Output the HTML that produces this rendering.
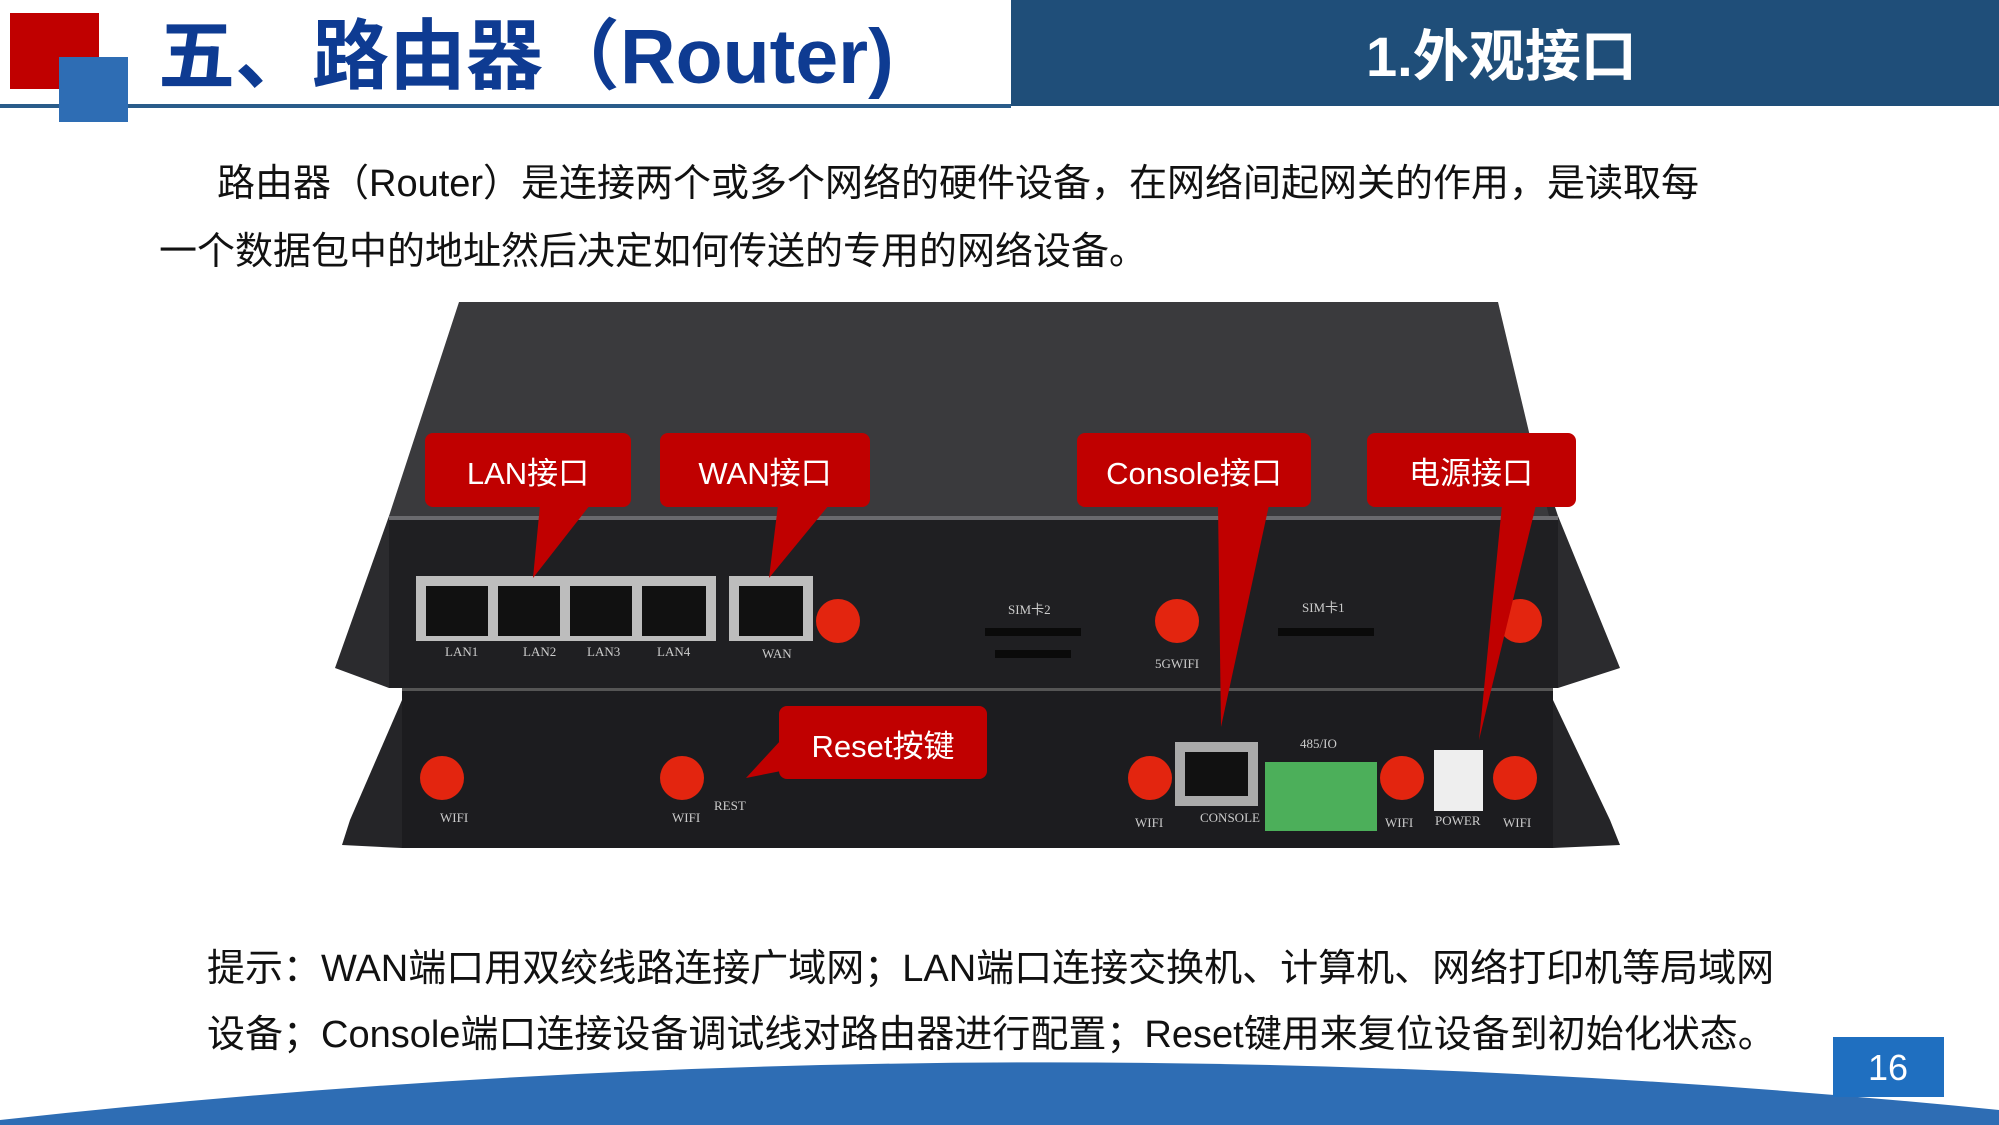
<!DOCTYPE html>
<html><head><meta charset="utf-8"><style>
html,body{margin:0;padding:0;background:#fff}
body{width:1999px;height:1125px;position:relative;overflow:hidden;font-family:"Liberation Sans","Noto Sans CJK SC",sans-serif}
.t{position:absolute;white-space:nowrap}
</style></head><body>
<svg width="1999" height="1125" viewBox="0 0 1999 1125" style="position:absolute;left:0;top:0">
<rect x="1011" y="0" width="988" height="106" fill="#1f4e79"/>
<rect x="0" y="104" width="1011" height="4" fill="#2a5c8a"/>
<rect x="10" y="13" width="89" height="76" fill="#c00000"/>
<rect x="59" y="57" width="69" height="65" fill="#2e6db4"/>
<polygon points="420,462 389,516 335,668 389,688" fill="#2b2b2e"/>
<polygon points="1540,462 1558,516 1620,668 1558,688" fill="#2b2b2e"/>
<polygon points="402,700 350,820 342,845 402,848" fill="#252528"/>
<polygon points="1553,700 1610,820 1620,845 1553,848" fill="#252528"/>
<polygon points="459,302 1498,302 1549,516 389,516" fill="#3a3a3d"/>
<rect x="389" y="516" width="1169" height="172" fill="#1f1f22"/>
<rect x="389" y="516" width="1169" height="4" fill="#6a6a6e"/>
<rect x="402" y="688" width="1151" height="160" fill="#1c1c1f"/>
<rect x="402" y="688" width="1151" height="3" fill="#555"/>
<rect x="416" y="576" width="300" height="65" fill="#bdbdbd"/>
<rect x="426" y="586" width="62" height="50" fill="#111"/><rect x="498" y="586" width="62" height="50" fill="#111"/>
<rect x="570" y="586" width="62" height="50" fill="#111"/><rect x="642" y="586" width="64" height="50" fill="#111"/>
<rect x="729" y="576" width="84" height="65" fill="#bdbdbd"/><rect x="739" y="586" width="64" height="50" fill="#111"/>
<rect x="1175" y="742" width="83" height="64" fill="#aaa"/><rect x="1185" y="752" width="63" height="44" fill="#111"/>
<rect x="1265" y="762" width="112" height="69" fill="#4caf5a"/>
<rect x="1434" y="750" width="49" height="61" fill="#eee"/>
<rect x="985" y="628" width="96" height="8" fill="#0a0a0a"/><rect x="995" y="650" width="76" height="8" fill="#0a0a0a"/>
<rect x="1278" y="628" width="96" height="8" fill="#0a0a0a"/>
<g fill="#e3250f">
<circle cx="838" cy="621" r="22"/><circle cx="1177" cy="621" r="22"/><circle cx="1520" cy="621" r="22"/>
<circle cx="442" cy="778" r="22"/><circle cx="682" cy="778" r="22"/><circle cx="1150" cy="778" r="22"/>
<circle cx="1402" cy="778" r="22"/><circle cx="1515" cy="778" r="22"/>
</g>
<g fill="#ccc" font-family="Liberation Serif,serif" font-size="13">
<text x="445" y="656">LAN1</text><text x="523" y="656">LAN2</text><text x="587" y="656">LAN3</text><text x="657" y="656">LAN4</text><text x="762" y="658">WAN</text>
<text x="1200" y="822">CONSOLE</text><text x="1435" y="825">POWER</text><text x="440" y="822">WIFI</text><text x="672" y="822">WIFI</text><text x="1135" y="827">WIFI</text><text x="1385" y="827">WIFI</text><text x="1503" y="827">WIFI</text>
<text x="1300" y="748">485/IO</text><text x="1008" y="614">SIM卡2</text><text x="1302" y="612">SIM卡1</text><text x="1155" y="668">5GWIFI</text><text x="714" y="810">REST</text>
</g>
<g fill="#c00000">
<rect x="425" y="433" width="206" height="74" rx="8"/><polygon points="540,505 590,505 533,578"/>
<rect x="660" y="433" width="210" height="74" rx="8"/><polygon points="778,505 829,505 769,578"/>
<rect x="1077" y="433" width="234" height="74" rx="8"/><polygon points="1218,505 1269,505 1221,727"/>
<rect x="1367" y="433" width="209" height="74" rx="8"/><polygon points="1502,505 1536,505 1479,740"/>
<rect x="779" y="706" width="208" height="73" rx="8"/><polygon points="781,740 781,771 746,778"/>
</g>
<g fill="#fff" font-size="31" font-family="Liberation Sans,Noto Sans CJK SC,sans-serif" text-anchor="middle">
<text x="528" y="484">LAN接口</text><text x="765" y="484">WAN接口</text><text x="1194" y="484">Console接口</text><text x="1471" y="484">电源接口</text><text x="883" y="757">Reset按键</text>
</g>
<path d="M0,1125 L0,1120 Q1000,1010 1999,1110 L1999,1125 Z" fill="#2e6db4"/>
<rect x="1833" y="1037" width="111" height="60" fill="#1f6fc0"/>
<text x="1888" y="1080" fill="#fff" font-size="36" text-anchor="middle" font-family="Liberation Sans,sans-serif">16</text>
</svg>
<div class="t" style="left:158px;top:-5px;font-size:77px;font-weight:bold;color:#0e3b92">五、路由器（Router)</div>
<div class="t" style="left:1366px;top:12px;font-size:56px;font-weight:bold;color:#fff">1.外观接口</div>
<div class="t" style="left:217px;top:152px;font-size:38px;color:#111">路由器（Router）是连接两个或多个网络的硬件设备，在网络间起网关的作用，是读取每</div>
<div class="t" style="left:159px;top:220px;font-size:38px;color:#111">一个数据包中的地址然后决定如何传送的专用的网络设备。</div>
<div class="t" style="left:207px;top:937px;font-size:38px;color:#111">提示：WAN端口用双绞线路连接广域网；LAN端口连接交换机、计算机、网络打印机等局域网</div>
<div class="t" style="left:207px;top:1003px;font-size:38px;color:#111">设备；Console端口连接设备调试线对路由器进行配置；Reset键用来复位设备到初始化状态。</div>
</body></html>
